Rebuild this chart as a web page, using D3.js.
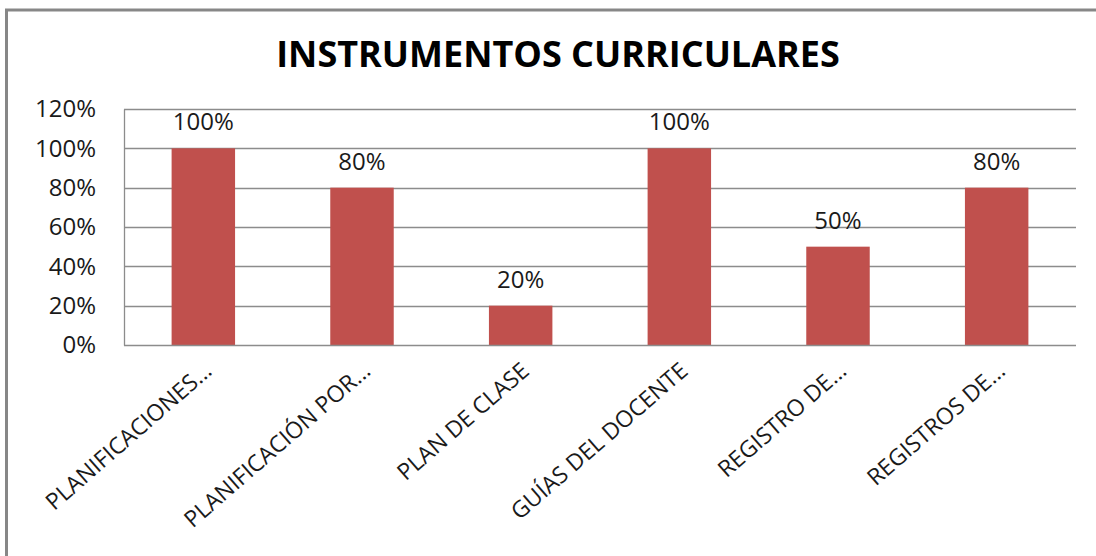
<!DOCTYPE html>
<html lang="es">
<head>
<meta charset="utf-8">
<title>Instrumentos curriculares</title>
<style>
  body { margin: 0; background: #fff; }
  svg { display: block; }
  text { font-family: "Open Sans", "DejaVu Sans", sans-serif; fill: #1a1a1a; }
  .title { font-weight: bold; font-size: 36px; fill: #000; }
  .tick text { font-size: 24px; }
  .lbl { font-size: 24px; }
  .cat text { font-size: 23px; }
</style>
<script src="https://cdn.jsdelivr.net/npm/d3@7"></script>
</head>
<body>
<script>
var categories = ["PLANIFICACIONES…", "PLANIFICACIÓN POR…", "PLAN DE CLASE",
                  "GUÍAS DEL DOCENTE", "REGISTRO DE…", "REGISTROS DE…"];
var values = [1.0, 0.8, 0.2, 1.0, 0.5, 0.8];
var yTicks = [0, 0.2, 0.4, 0.6, 0.8, 1.0, 1.2];

var width = 1096, height = 556;
var plot = {left: 124, right: 1076, top: 109, bottom: 345};

var svg = d3.select("body").append("svg")
  .attr("width", width)
  .attr("height", height);

// outer chart frame (cut off at right and bottom like the screenshot)
svg.append("path")
  .attr("d", "M6.5," + (height + 5) + "V10H" + (width + 5))
  .attr("fill", "none")
  .attr("stroke", "#878787")
  .attr("stroke-width", 3);

svg.append("text")
  .attr("class", "title")
  .attr("x", 558)
  .attr("y", 67)
  .attr("text-anchor", "middle")
  .text("INSTRUMENTOS CURRICULARES");

var x = d3.scaleBand()
  .domain(categories)
  .range([plot.left, plot.right])
  .paddingInner(0.6)
  .paddingOuter(0.3);

var y = d3.scaleLinear()
  .domain([0, 1.2])
  .range([plot.bottom, plot.top]);

// gridlines
svg.append("g")
  .selectAll("line")
  .data(yTicks.filter(function(d){ return d > 0; }))
  .join("line")
  .attr("x1", plot.left).attr("x2", plot.right)
  .attr("y1", function(d){ return Math.round(y(d)) + 0.5; })
  .attr("y2", function(d){ return Math.round(y(d)) + 0.5; })
  .attr("stroke", "#8c8c8c")
  .attr("stroke-width", 1.3);

// bars
svg.append("g")
  .selectAll("rect")
  .data(values)
  .join("rect")
  .attr("x", function(d, i){ return x(categories[i]); })
  .attr("y", function(d){ return y(d); })
  .attr("width", x.bandwidth())
  .attr("height", function(d){ return y(0) - y(d); })
  .attr("fill", "#c0504d");

// y axis
var yAxis = svg.append("g")
  .attr("transform", "translate(" + plot.left + ",0)")
  .call(d3.axisLeft(y).tickValues(yTicks).tickSize(0).tickPadding(28)
    .tickFormat(d3.format(".0%")));
yAxis.select(".domain").attr("stroke", "#8c8c8c").attr("stroke-width", 1.3);
yAxis.selectAll(".tick text").attr("fill", "#1a1a1a");

// x axis line
svg.append("line")
  .attr("x1", plot.left).attr("x2", plot.right)
  .attr("y1", plot.bottom + 0.5).attr("y2", plot.bottom + 0.5)
  .attr("stroke", "#8c8c8c")
  .attr("stroke-width", 1.3);

// data labels
svg.append("g")
  .selectAll("text")
  .data(values)
  .join("text")
  .attr("class", "lbl")
  .attr("x", function(d, i){ return x(categories[i]) + x.bandwidth() / 2; })
  .attr("y", function(d){ return y(d) - 18; })
  .attr("text-anchor", "middle")
  .text(function(d){ return d3.format(".0%")(d); });

// rotated category labels
svg.append("g")
  .attr("class", "cat")
  .selectAll("text")
  .data(categories)
  .join("text")
  .attr("text-anchor", "end")
  .attr("transform", function(d){
    var cx = x(d) + x.bandwidth() / 2 + 10;
    return "translate(" + cx + "," + (plot.bottom + 28) + ") rotate(-41)";
  })
  .text(function(d){ return d; });
</script>
</body>
</html>
